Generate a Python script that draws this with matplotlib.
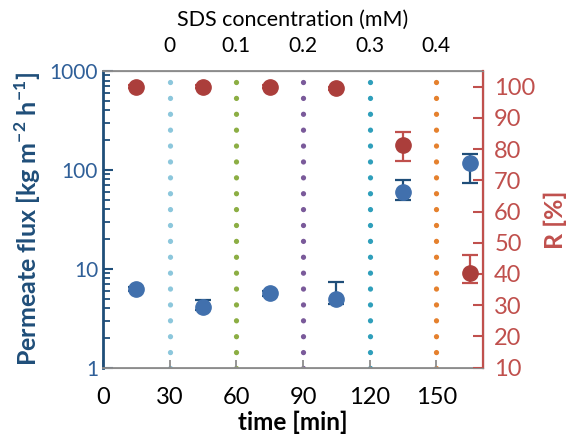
import matplotlib
matplotlib.use("Agg")
import matplotlib.pyplot as plt
import numpy as np

plt.rcParams['font.family'] = ['Lato', 'DejaVu Sans']
plt.rcParams['mathtext.fontset'] = 'custom'
plt.rcParams['mathtext.rm'] = 'Lato'
plt.rcParams['mathtext.bf'] = 'Lato:bold'

# data
time_pts = [15, 45, 75, 105, 135, 165]
flux = [6.25, 4.1, 5.65, 4.95, 60, 118]
flux_err_lo = [0.3, 0.3, 0.3, 0.5, 10.5, 45]
flux_err_hi = [0.3, 0.75, 0.3, 2.4, 19, 27]
rej = [100, 100, 100, 99.5, 81.3, 40.2]
rej_err_lo = [0.5, 0.5, 0.5, 0.5, 5.0, 3.2]
rej_err_hi = [0.5, 0.5, 0.5, 0.5, 4.1, 5.9]

sds_times = [30, 60, 90, 120, 150]
sds_labels = ['0', '0.1', '0.2', '0.3', '0.4']
sds_colors = ['#8cc7dc', '#8cae44', '#7a5a9a', '#2f9fbb', '#e5812e']

blue_dark = '#1f4e79'
blue_tick = '#2f5f98'
blue_pt = '#4170ad'
red = '#c0504d'
red_pt = '#ab3e3b'
grey = '#8c8c8c'

fig = plt.figure(figsize=(5.69, 4.38), dpi=100)
ax = fig.add_axes([0.181, 0.1605, 0.668, 0.6775])

for t, c in zip(sds_times, sds_colors):
    ax.axvline(t, color=c, lw=3.8, linestyle=(0, (0.01, 3.0)),
               dash_capstyle='round', zorder=1)

ax.errorbar(time_pts, flux, yerr=[flux_err_lo, flux_err_hi], fmt='o',
            color=blue_pt, ms=11, ecolor=blue_dark, elinewidth=1.6,
            capsize=6, capthick=1.6, zorder=3)

ax.set_yscale('log')
ax.set_ylim(1, 1000)
ax.set_xlim(0, 171)
ax.set_xticks([0, 30, 60, 90, 120, 150])
ax.tick_params(axis='x', direction='in', length=6, width=1.3, colors=grey,
               labelcolor='black', labelsize=17, pad=14)
ax.tick_params(axis='y', which='major', direction='in', length=7, width=1.5,
               colors=blue_dark, labelcolor=blue_tick, labelsize=15)
ax.tick_params(axis='y', which='minor', direction='in', length=5, width=1.3,
               colors=blue_dark)
ax.set_yticks([1, 10, 100, 1000])
ax.set_yticklabels(['1', '10', '100', '1000'])
ax.spines['left'].set_color(blue_dark)
ax.spines['left'].set_linewidth(2)
ax.spines['bottom'].set_color(grey)
ax.spines['bottom'].set_linewidth(1.3)
ax.spines['top'].set_color(grey)
ax.spines['top'].set_linewidth(1.3)
ax.set_xlabel('time [min]', fontsize=17.5, fontweight='bold', labelpad=2)
ax.set_ylabel(r'Permeate flux [kg m$^{\mathbf{-2}}$ h$^{\mathbf{-1}}$]',
              fontsize=18, fontweight='bold', color=blue_dark, labelpad=5)

ax2 = ax.twinx()
ax2.errorbar(time_pts, rej, yerr=[rej_err_lo, rej_err_hi], fmt='o',
             color=red_pt, ms=11, ecolor=red, elinewidth=1.6,
             capsize=6, capthick=1.6, zorder=3)
ax2.set_ylim(10, 105)
ax2.set_yticks(np.arange(10, 101, 10))
ax2.tick_params(axis='y', direction='in', length=7, width=1.5, colors=red,
                labelsize=17, pad=8)
ax2.spines['right'].set_color(red)
ax2.spines['right'].set_linewidth(1.6)
ax2.spines['left'].set_visible(False)
ax2.spines['top'].set_color(grey)
ax2.spines['bottom'].set_color(grey)
ax2.set_ylabel('R [%]', fontsize=18, fontweight='bold', color=red, labelpad=6)

ax3 = ax.twiny()
ax3.set_xlim(ax.get_xlim())
ax3.set_xticks(sds_times)
ax3.set_xticklabels(sds_labels)
ax3.tick_params(axis='x', length=0, labelsize=15, pad=11)
ax3.set_xlabel('SDS concentration (mM)', fontsize=15.5, labelpad=7)
for s in ['left', 'right', 'bottom']:
    ax3.spines[s].set_visible(False)
ax3.spines['top'].set_color(grey)

fig.savefig('out.png', dpi=100)
